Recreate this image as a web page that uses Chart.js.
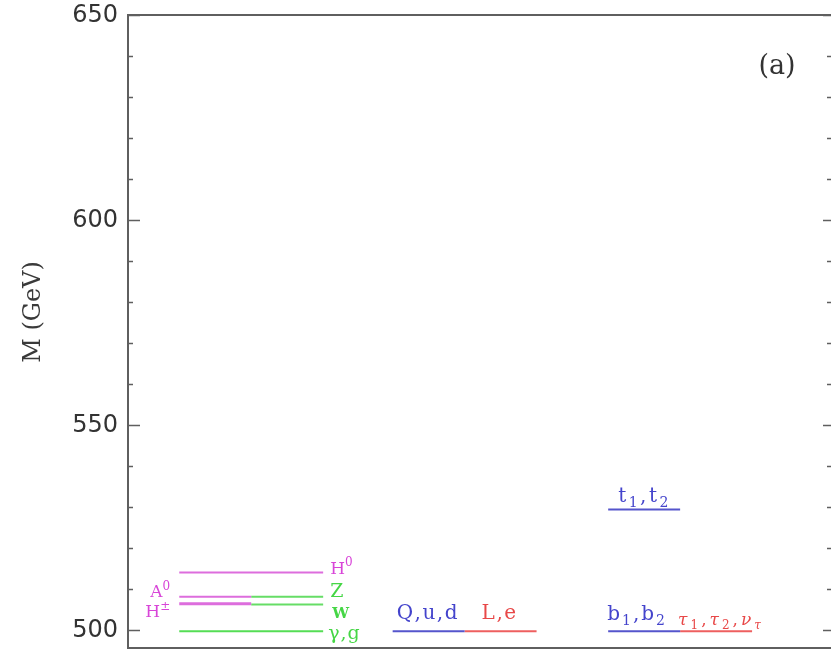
<!DOCTYPE html>
<html>
<head>
<meta charset="utf-8">
<script src="https://cdn.jsdelivr.net/npm/chart.js@4.4.1/dist/chart.umd.min.js"></script>
<style>
  html, body { margin: 0; padding: 0; background: #ffffff; }
  #wrap { width: 831px; height: 652px; }
</style>
</head>
<body>
<div id="wrap"><canvas id="c" width="831" height="652"></canvas></div>
<script>
// Level-1 KK masses (GeV), one horizontal level per state
const states  = ['H0', 'A0', 'Z', 'Hpm', 'W', 'gamma_g', 'Qud', 'Le', 't12', 'b12', 'tau'];
const masses  = [514.0, 508.1, 508.1, 506.4, 506.2, 499.7, 499.7, 499.7, 529.4, 499.7, 499.7];
// which spectrum column each state sits in: 0 = gauge/Higgs, 1 = light generations, 2 = third generation
const columnOf = [0, 0, 0, 0, 0, 0, 1, 1, 2, 2, 2];
// which part of the column the level spans
const spanOf   = ['full', 'left', 'right', 'left', 'right', 'full', 'left', 'right', 'left', 'left', 'right'];
const yTickValues = [500, 550, 600, 650];
const panelTag = '(a)';
const axisTitle = 'M (GeV)';

// ---- styling / geometry ----
const MAGENTA = '#d845d8', GREEN = '#45d645', BLUE = '#4444cc', RED = '#e84848';
const lineColor = {H0: '#dd6ddd', A0: '#dd6ddd', Hpm: '#dd6ddd', Z: '#66dd66', W: '#66dd66', gamma_g: '#55dd55',
                   Qud: '#5555cc', Le: '#ee5f5f', t12: '#5555cc', b12: '#5555cc', tau: '#ee5f5f'};
const lineWidth = {Hpm: 3};
const colStart = [0.73, 3.77, 6.84];
const colWidth = 2.05;

function spanX(i) {
  const a = colStart[columnOf[i]], h = colWidth / 2;
  if (spanOf[i] === 'left') return [a, a + h];
  if (spanOf[i] === 'right') return [a + h, a + colWidth];
  return [a, a + colWidth];
}

const datasets = states.map((s, i) => {
  const [x0, x1] = spanX(i);
  return {
    label: s,
    data: [{x: x0, y: masses[i]}, {x: x1, y: masses[i]}],
    showLine: true,
    borderColor: lineColor[s],
    borderWidth: lineWidth[s] || 2,
    pointRadius: 0,
    pointHoverRadius: 0,
    fill: false
  };
});

// label text as [string, kind] runs; kind: n = normal, i = italic, sup / sub / subi = small
const labels = [
  {state: 'H0',      end: 'right', dx: 7,   dy: 1,   size: 17, sp: 0,   color: MAGENTA, align: 'left',  runs: [['H','n'],['0','sup']]},
  {state: 'Z',       end: 'right', dx: 7,   dy: 0,   size: 19, sp: 0,   color: GREEN,   align: 'left',  runs: [['Z','n']]},
  {state: 'W',       end: 'right', dx: 9,   dy: 13,  size: 15, sp: 0,   color: GREEN,   align: 'left',  bold: true, runs: [['W','n']]},
  {state: 'gamma_g', end: 'right', dx: 5,   dy: 8,   size: 19, sp: 1,   color: GREEN,   align: 'left',  runs: [['γ','n'],[',','n'],['g','n']]},
  {state: 'A0',      end: 'left',  dx: -9,  dy: 0,   size: 17, sp: 0,   color: MAGENTA, align: 'right', runs: [['A','n'],['0','sup']]},
  {state: 'Hpm',     end: 'left',  dx: -9,  dy: 13,  size: 17, sp: 0,   color: MAGENTA, align: 'right', runs: [['H','n'],['±','sup']]},
  {state: 'Qud',     end: 'left',  dx: 4,   dy: -12, size: 20, sp: 1.5, color: BLUE,    align: 'left',  runs: [['Q,u,d','n']]},
  {state: 'Le',      end: 'left',  dx: 17,  dy: -12, size: 20, sp: 1.5, color: RED,     align: 'left',  runs: [['L,e','n']]},
  {state: 't12',     end: 'left',  dx: 10,  dy: -7,  size: 20, sp: 2.5, color: BLUE,    align: 'left',  runs: [['t','n'],['1','sub'],[',','n'],['t','n'],['2','sub']]},
  {state: 'b12',     end: 'left',  dx: -1,  dy: -11, size: 20, sp: 2,   color: BLUE,    align: 'left',  runs: [['b','n'],['1','sub'],[',','n'],['b','n'],['2','sub']]},
  {state: 'tau',     end: 'left',  dx: -2,  dy: -6,  size: 17, sp: 3,   color: RED,     align: 'left',  runs: [['τ','i'],['1','sub'],[',','n'],['τ','i'],['2','sub'],[',','n'],['ν','i'],['τ','subi']]}
];

const SERIF = '"DejaVu Serif", "Liberation Serif", serif';

function runFont(kind, size, bold) {
  const small = kind === 'sup' || kind === 'sub' || kind === 'subi';
  const px = small ? Math.round(size * 0.72) : size;
  const italic = kind === 'i' || kind === 'subi';
  return (italic ? 'italic ' : '') + (bold ? 'bold ' : '') + px + 'px ' + SERIF;
}

// draws a label character by character so letter spacing is explicit
function drawRuns(ctx, l, x, y) {
  const {runs, size, color, align, sp} = l;
  ctx.save();
  ctx.fillStyle = color;
  ctx.textBaseline = 'alphabetic';
  ctx.textAlign = 'left';
  const glyphs = [];
  runs.forEach(([t, k]) => {
    for (const ch of t) {
      ctx.font = runFont(k, size, l.bold);
      glyphs.push({ch, k, w: ctx.measureText(ch).width});
    }
  });
  const total = glyphs.reduce((s, g) => s + g.w, 0) + sp * (glyphs.length - 1);
  let cx = align === 'right' ? x - total : x;
  glyphs.forEach(g => {
    ctx.font = runFont(g.k, size, l.bold);
    let yy = y;
    if (g.k === 'sup') yy = y - size * 0.42;
    if (g.k === 'sub' || g.k === 'subi') yy = y + size * 0.25;
    ctx.fillText(g.ch, cx, yy);
    cx += g.w + sp;
  });
  ctx.restore();
}

const framePlugin = {
  id: 'frameAndLabels',
  afterDraw(chart) {
    const {ctx, chartArea: a, scales: {x, y}} = chart;
    const W = chart.width;
    ctx.save();
    // frame: left, top and bottom sides (the right side runs off the canvas edge)
    ctx.strokeStyle = '#5f5f5f';
    ctx.lineWidth = 2;
    ctx.beginPath();
    ctx.moveTo(W, a.top); ctx.lineTo(a.left, a.top); ctx.lineTo(a.left, a.bottom); ctx.lineTo(W, a.bottom);
    ctx.stroke();
    // inward ticks on both vertical sides, every 10 GeV
    ctx.lineWidth = 1.6;
    for (let v = 500; v <= 650; v += 10) {
      const py = Math.round(y.getPixelForValue(v)) + 0.5;
      const major = v % 50 === 0;
      ctx.beginPath();
      ctx.moveTo(a.left, py); ctx.lineTo(a.left + (major ? 12 : 5), py);
      ctx.moveTo(W, py); ctx.lineTo(W - (major ? 8 : 4), py);
      ctx.stroke();
    }
    // tick labels
    ctx.fillStyle = '#333333';
    ctx.font = '24px "DejaVu Sans", sans-serif';
    ctx.textAlign = 'right';
    ctx.textBaseline = 'middle';
    yTickValues.forEach(v => ctx.fillText(String(v), a.left - 10, y.getPixelForValue(v) + 1));
    // axis title
    ctx.fillStyle = '#3a3a3a';
    ctx.font = '24px "DejaVu Serif", serif';
    ctx.textAlign = 'center';
    ctx.translate(34, 312);
    ctx.rotate(-Math.PI / 2);
    ctx.fillText(axisTitle, 0, 0);
    ctx.restore();

    // panel tag
    ctx.save();
    ctx.fillStyle = '#333333';
    ctx.font = '27px "DejaVu Serif", serif';
    ctx.textAlign = 'center';
    ctx.textBaseline = 'middle';
    ctx.fillText(panelTag, 777, 67);
    ctx.restore();

    // state labels, placed from each level's own line
    labels.forEach(l => {
      const i = states.indexOf(l.state);
      const [x0, x1] = spanX(i);
      const px = x.getPixelForValue(l.end === 'right' ? x1 : x0) + l.dx;
      const py = y.getPixelForValue(masses[i]) + l.dy;
      drawRuns(ctx, l, px, py);
    });
  }
};

new Chart(document.getElementById('c'), {
  type: 'scatter',
  data: {datasets},
  options: {
    responsive: false,
    devicePixelRatio: 1,
    animation: false,
    layout: {padding: {top: 15, right: 1, bottom: 4, left: 0}},
    plugins: {legend: {display: false}, tooltip: {enabled: false}},
    scales: {
      x: {type: 'linear', min: 0, max: 10, display: false},
      y: {
        type: 'linear', min: 495.6, max: 650,
        afterBuildTicks(s) { s.ticks = yTickValues.map(v => ({value: v})); },
        afterFit(s) { s.width = 128; },
        grid: {display: false, drawTicks: false},
        border: {display: false},
        ticks: {display: false}
      }
    }
  },
  plugins: [framePlugin]
});
</script>
</body>
</html>
